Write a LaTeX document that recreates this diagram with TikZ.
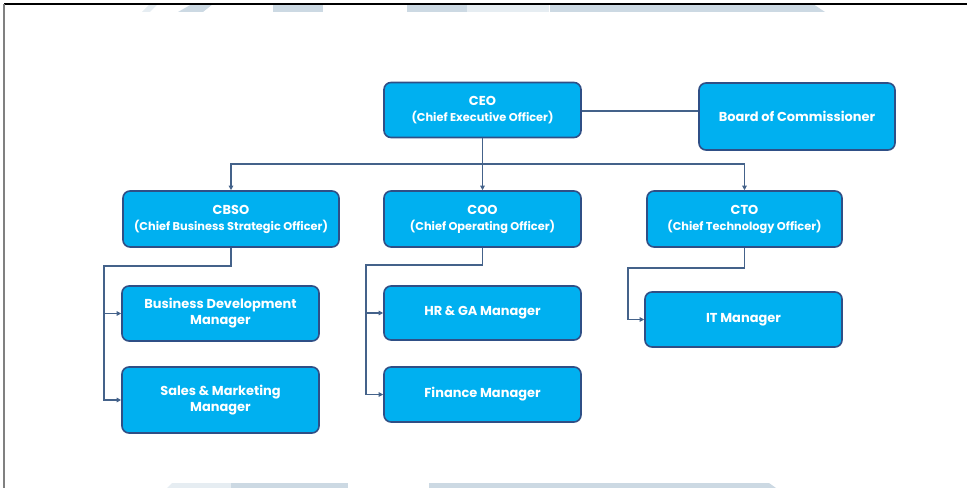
\documentclass[tikz,border=0pt]{standalone}
\usepackage{fontspec}
\setmainfont{Poppins}
\usetikzlibrary{arrows.meta,calc}
\definecolor{boxfill}{HTML}{00B0F0}
\definecolor{boxline}{HTML}{2F4F86}
\definecolor{conn}{HTML}{44628A}
\definecolor{wmark}{HTML}{CCD9E3}
\definecolor{wmarklight}{HTML}{E6EDF2}
\newcommand{\subline}[1]{{\fontsize{11.4}{16}\selectfont #1}}
\tikzset{
  orgbox/.style={draw=boxline, line width=1.6bp, fill=boxfill, rounded corners=7bp,
    text=white, font=\fontsize{13}{16}\selectfont\bfseries, align=center,
    inner sep=0pt},
  link/.style={draw=conn, line width=1.3bp},
  arr/.style={link, -{Triangle[length=4.5bp,width=4.5bp]}},
}
\begin{document}
\begin{tikzpicture}[x=1bp,y=-1bp]
\useasboundingbox (0,0) rectangle (967,488);
% watermark pieces
\fill[wmarklight] (142,12) -- (150,4) -- (158,4) -- (150,12) -- cycle;
\fill[wmark] (178,12) -- (192,4) -- (213,4) -- (203,12) -- cycle;
\fill[wmark] (273,4) rectangle (323,12);
\fill[wmark] (407,4) rectangle (467,12);
\fill[wmarklight] (467,4) rectangle (549,12);
\fill[wmark] (550,4) -- (813,4) -- (825,12) -- (550,12) -- cycle;
\fill[wmarklight] (167,488) -- (172,483) -- (231,483) -- (231,488) -- cycle;
\fill[wmark] (231,483) rectangle (348,488);
\fill[wmark] (429,483) -- (769,483) -- (776,488) -- (429,488) -- cycle;
% frame
\draw[black, line width=1.2bp] (4,4) -- (967,4);
\draw[gray, line width=1.5bp] (4,4) -- (4,488);
% nodes
\node[orgbox, minimum width=197bp, minimum height=55bp] (CEO) at (482.5,110) {CEO\\\subline{(Chief Executive Officer)}};
\node[orgbox, minimum width=196bp, minimum height=67bp] (BOC) at (797,116.5) {Board of Commissioner};
\node[orgbox, minimum width=216bp, minimum height=56bp] (CBSO) at (231,219) {CBSO\\\subline{(Chief Business Strategic Officer)}};
\node[orgbox, minimum width=197bp, minimum height=56bp] (COO) at (482.5,219) {COO\\\subline{(Chief Operating Officer)}};
\node[orgbox, minimum width=195bp, minimum height=56bp] (CTO) at (744.5,219) {CTO\\\subline{(Chief Technology Officer)}};
\node[orgbox, minimum width=197bp, minimum height=55bp] (BDM) at (220.5,313.5) {Business Development\\Manager};
\node[orgbox, minimum width=197bp, minimum height=66bp] (SMM) at (220.5,400) {Sales \& Marketing\\Manager};
\node[orgbox, minimum width=197bp, minimum height=54bp] (HRM) at (482.5,313) {HR \& GA Manager};
\node[orgbox, minimum width=197bp, minimum height=55bp] (FIN) at (482.5,394.5) {Finance Manager};
\node[orgbox, minimum width=197bp, minimum height=55bp] (ITM) at (743.5,319.5) {IT Manager};
% junction points
\coordinate (bus) at (482.5,164);
\coordinate (j1) at (104,266);
\coordinate (j2) at (366,265);
\coordinate (j3) at (628,268);
% connectors
\draw[link] (CEO.east |- 0,111) -- (BOC.west |- 0,111);
\draw[link] (CEO.south) -- (bus);
\draw[arr] (bus) -| (CBSO.north);
\draw[arr] (bus) -- (COO.north);
\draw[arr] (bus) -| (CTO.north);
\draw[arr] (CBSO.south) |- (j1) |- (SMM.west);
\draw[arr] (j1 |- BDM.west) -- (BDM.west);
\draw[arr] (COO.south) |- (j2) |- (FIN.west);
\draw[arr] (j2 |- HRM.west) -- (HRM.west);
\draw[arr] (CTO.south) |- (j3) |- (ITM.west);
\end{tikzpicture}
\end{document}
